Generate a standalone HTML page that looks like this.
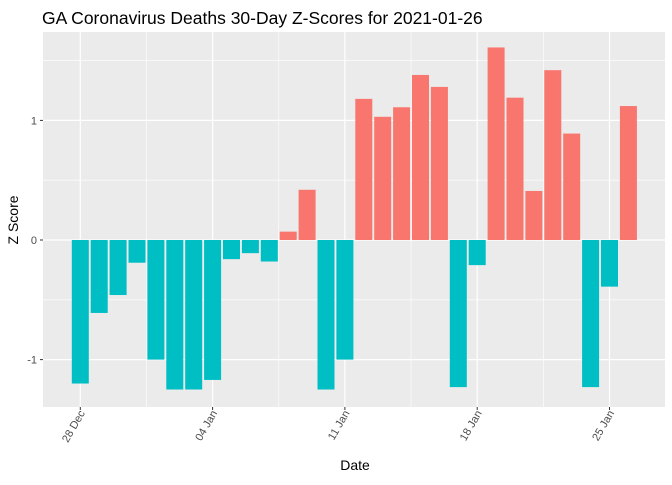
<!DOCTYPE html>
<html><head><meta charset="utf-8"><style>
body{margin:0;background:#fff;font-family:"Liberation Sans",sans-serif}
</style></head><body>
<svg width="672" height="480" xmlns="http://www.w3.org/2000/svg" id="svg">
<text x="42" y="24" font-size="17.5" fill="#000">GA Coronavirus Deaths 30-Day Z-Scores for 2021-01-26</text>
<rect x="43" y="32" width="622" height="375" fill="#ebebeb"/>
<g id="grid"></g><g id="bars"></g><g id="axes"></g>
<text x="355" y="470" font-size="14" text-anchor="middle">Date</text>
<text transform="translate(18,220) rotate(-90)" font-size="14" text-anchor="middle">Z Score</text>
</svg>
<script>
const dates=["Dec28","Dec29","Dec30","Dec31","Jan01","Jan02","Jan03","Jan04","Jan05","Jan06","Jan07","Jan08","Jan09","Jan10","Jan11","Jan12","Jan13","Jan14","Jan15","Jan16","Jan17","Jan18","Jan19","Jan20","Jan21","Jan22","Jan23","Jan24","Jan25","Jan26"];
const zscores=[-1.20,-0.61,-0.46,-0.19,-1.00,-1.25,-1.25,-1.17,-0.16,-0.11,-0.18,0.07,0.42,-1.25,-1.00,1.18,1.03,1.11,1.38,1.28,-1.23,-0.21,1.61,1.19,0.41,1.42,0.89,-1.23,-0.39,1.12];
const xTickIdx=[0,7,14,21,28];
const xTickLabels=["28 Dec","04 Jan","11 Jan","18 Jan","25 Jan"];
const yTicks=[-1,0,1];
const yMinor=[-0.5,0.5,1.5];
const NS="http://www.w3.org/2000/svg";
const x=i=>80.3+i*18.9;
const y=v=>240-v*119.6;
function mk(t,a,p){const e=document.createElementNS(NS,t);for(const k in a)e.setAttribute(k,a[k]);p.appendChild(e);return e;}
const grid=document.getElementById('grid'),bars=document.getElementById('bars'),axes=document.getElementById('axes');
yMinor.forEach(v=>{const l=mk('line',{x1:43,x2:665,y1:y(v),y2:y(v),stroke:'#fff','stroke-width':0.6},grid);

});
[-3.5,3.5,10.5,17.5,24.5].forEach(i=>{const m=x(i);const l=mk('line',{x1:m,x2:m,y1:32,y2:407,stroke:'#fff','stroke-width':0.6},grid);

});
yTicks.forEach(v=>{const l=mk('line',{x1:43,x2:665,y1:y(v),y2:y(v),stroke:'#fff','stroke-width':1.2},grid);


mk('line',{x1:40,x2:43,y1:y(v),y2:y(v),stroke:'#333','stroke-width':1},axes);
const tx=mk('text',{x:37,y:y(v)+4,'font-size':11,'text-anchor':'end',fill:'#4d4d4d'},axes);tx.textContent=v;

});
xTickIdx.forEach((i,k)=>{const xx=x(i);const l=mk('line',{x1:xx,x2:xx,y1:32,y2:407,stroke:'#fff','stroke-width':1.2},grid);


mk('line',{x1:xx,x2:xx,y1:407,y2:410,stroke:'#333','stroke-width':1},axes);
const tx=mk('text',{transform:`translate(${xx+5},413) rotate(-60)`,'font-size':11,'text-anchor':'end',fill:'#4d4d4d'},axes);tx.textContent=xTickLabels[k];

});
zscores.forEach((v,i)=>{const w=17;const y0=y(0),y1=y(v);
const r=mk('rect',{x:x(i)-w/2,y:Math.min(y0,y1),width:w,height:Math.abs(y1-y0),fill:v>0?'#f8766d':'#00bfc4'},bars);

});
</script>
</body></html>
